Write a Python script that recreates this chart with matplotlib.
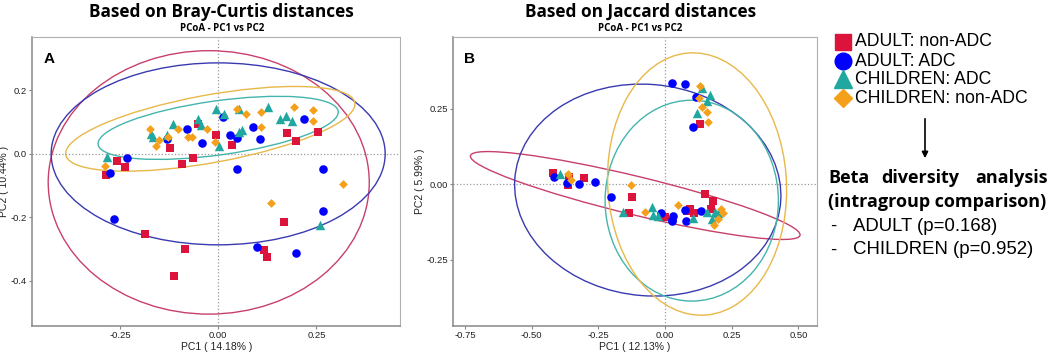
import matplotlib.pyplot as plt
from matplotlib.patches import Ellipse, FancyArrowPatch

plt.rcParams["font.family"] = ["Liberation Sans", "DejaVu Sans"]
plt.rcParams["axes.unicode_minus"] = False

GROUPS = ["ADULT: non-ADC", "ADULT: ADC", "CHILDREN: ADC", "CHILDREN: non-ADC"]
COLORS = ["#DC143C", "#0000FF", "#20A8A0", "#F5A01A"]
ELLIPSE_COLORS = ["#C8406A", "#3A3AB0", "#45B5AC", "#E8B848"]
MARKERS = ["s", "o", "^", "D"]
SIZES = [30, 38, 46, 20]

# ---- Panel A: Bray-Curtis ----
bc_adult_non_x = [-0.285, -0.257, -0.236, -0.123, -0.091, -0.065, -0.052, -0.006, 0.036, 0.176, 0.198, 0.253,
                  -0.185, -0.085, -0.113, 0.167, 0.117, 0.124]
bc_adult_non_y = [-0.066, -0.024, -0.042, 0.020, -0.031, -0.014, 0.095, 0.061, 0.027, 0.066, 0.042, 0.068,
                  -0.252, -0.299, -0.386, -0.215, -0.303, -0.326]
bc_adult_adc_x = [-0.274, -0.231, -0.130, -0.079, -0.041, 0.012, 0.031, 0.048, 0.088, 0.106, 0.218, 0.048, 0.267,
                  -0.264, 0.267, 0.098, 0.198]
bc_adult_adc_y = [-0.061, -0.012, 0.046, 0.077, 0.035, 0.116, 0.059, 0.050, 0.085, 0.046, 0.111, -0.047, -0.048,
                  -0.204, -0.179, -0.293, -0.313]
bc_child_adc_x = [-0.284, -0.171, -0.166, -0.131, -0.115, -0.052, -0.043, -0.006, 0.014, 0.001, 0.052, 0.053,
                  0.061, 0.127, 0.158, 0.172, 0.188, 0.259]
bc_child_adc_y = [-0.010, 0.063, 0.053, 0.060, 0.094, 0.110, 0.090, 0.143, 0.125, 0.026, 0.141, 0.070,
                  0.075, 0.147, 0.111, 0.118, 0.104, -0.224]
bc_child_non_x = [-0.288, -0.174, -0.159, -0.150, -0.128, -0.102, -0.076, -0.067, -0.029, -0.009, 0.048, 0.070,
                  0.109, 0.109, 0.192, 0.242, 0.242, 0.318, 0.135]
bc_child_non_y = [-0.037, 0.079, 0.025, 0.044, 0.052, 0.079, 0.053, 0.053, 0.079, 0.038, 0.143, 0.125,
                  0.131, 0.085, 0.148, 0.138, 0.105, -0.096, -0.154]

# ellipses: center x, center y, width, height, angle
bc_ell_cx = [-0.024, 0.0, 0.0, -0.02]
bc_ell_cy = [-0.09, 0.0, 0.082, 0.079]
bc_ell_w = [0.817, 0.85, 0.62, 0.754]
bc_ell_h = [0.831, 0.574, 0.17, 0.212]
bc_ell_ang = [0, 0, 10, 13]

# ---- Panel B: Jaccard ----
jc_adult_non_x = [-0.419, -0.365, -0.360, -0.304, -0.124, -0.136, 0.0, 0.084, 0.109, 0.094, 0.151, 0.179, 0.172,
                  0.131]
jc_adult_non_y = [0.035, -0.003, 0.024, 0.019, -0.043, -0.097, -0.110, -0.089, -0.095, -0.084, -0.033, -0.057,
                  -0.084, 0.199]
jc_adult_adc_x = [-0.416, -0.369, -0.322, -0.262, -0.202, -0.016, 0.025, 0.031, 0.075, 0.078, 0.135, 0.027,
                  0.025, 0.076, 0.115, 0.106]
jc_adult_adc_y = [0.022, 0.004, -0.001, 0.008, -0.043, -0.097, -0.119, -0.106, -0.086, -0.121, -0.089, -0.122,
                  0.333, 0.331, 0.289, 0.188]
jc_child_adc_x = [-0.396, -0.159, -0.050, -0.044, -0.025, 0.106, 0.159, 0.187, 0.175, 0.200,
                  0.139, 0.169, 0.159, 0.119]
jc_child_adc_y = [0.033, -0.092, -0.077, -0.103, -0.106, -0.114, -0.092, -0.092, -0.117, -0.097,
                  0.317, 0.295, 0.276, 0.234]
jc_child_non_x = [-0.363, -0.354, -0.126, -0.074, 0.050, 0.209, 0.216, 0.200, 0.184,
                  0.131, 0.129, 0.140, 0.157, 0.162]
jc_child_non_y = [0.033, 0.013, -0.002, -0.094, -0.071, -0.082, -0.097, -0.117, -0.134,
                  0.325, 0.285, 0.256, 0.238, 0.204]

jc_ell_cx = [-0.112, -0.065, 0.10, 0.12]
jc_ell_cy = [-0.038, -0.02, -0.055, 0.0]
jc_ell_w = [1.264, 1.0, 0.65, 0.67]
jc_ell_h = [0.128, 0.70, 0.665, 0.87]
jc_ell_ang = [-12, -4, 0, 5]


def draw_panel(ax, xs, ys, ell, xlim, ylim, xticks, yticks, xfmt, yfmt, xlabel, ylabel, letter):
    ax.axvline(0, color="#999999", linestyle=":", linewidth=0.9, zorder=0)
    ax.axhline(0, color="#999999", linestyle=":", linewidth=0.9, zorder=0)
    cx, cy, w, h, ang = ell
    for i in range(4):
        ax.add_patch(Ellipse((cx[i], cy[i]), w[i], h[i], angle=ang[i], fill=False,
                             edgecolor=ELLIPSE_COLORS[i], linewidth=1.0, zorder=1))
    for i in range(4):
        ax.scatter(xs[i], ys[i], marker=MARKERS[i], s=SIZES[i], color=COLORS[i],
                   linewidths=0, zorder=3)
    ax.set_xlim(*xlim)
    ax.set_ylim(*ylim)
    ax.set_xticks(xticks)
    ax.set_xticklabels([xfmt.format(v) for v in xticks])
    ax.set_yticks(yticks)
    ax.set_yticklabels([yfmt.format(v) for v in yticks])
    ax.tick_params(labelsize=6.8, length=2.5, color="#888888", pad=1.2, labelcolor="#222222")
    for s in ax.spines.values():
        s.set_color("#b0b0b0")
        s.set_linewidth(0.8)
    ax.spines["left"].set_color("#888888")
    ax.spines["bottom"].set_color("#888888")
    ax.spines["left"].set_linewidth(1.1)
    ax.spines["bottom"].set_linewidth(1.1)
    ax.set_xlabel(xlabel, fontsize=7.5, labelpad=1, color="#222222")
    ax.set_ylabel(ylabel, fontsize=7.5, labelpad=1, color="#222222")
    ax.text(0.03, 0.925, letter, transform=ax.transAxes, fontsize=11, fontweight="bold",
            va="center", ha="left")


fig = plt.figure(figsize=(10.52, 3.53), dpi=100)

axA = fig.add_axes([0.0307, 0.0765, 0.350, 0.819])
draw_panel(axA,
           [bc_adult_non_x, bc_adult_adc_x, bc_child_adc_x, bc_child_non_x],
           [bc_adult_non_y, bc_adult_adc_y, bc_child_adc_y, bc_child_non_y],
           (bc_ell_cx, bc_ell_cy, bc_ell_w, bc_ell_h, bc_ell_ang),
           (-0.473, 0.464), (-0.543, 0.369),
           [-0.25, 0.0, 0.25], [-0.4, -0.2, 0.0, 0.2], "{:.2f}", "{:.1f}",
           "PC1 ( 14.18% )", "PC2 ( 10.44% )", "A")

axB = fig.add_axes([0.431, 0.0765, 0.3454, 0.818])
draw_panel(axB,
           [jc_adult_non_x, jc_adult_adc_x, jc_child_adc_x, jc_child_non_x],
           [jc_adult_non_y, jc_adult_adc_y, jc_child_adc_y, jc_child_non_y],
           (jc_ell_cx, jc_ell_cy, jc_ell_w, jc_ell_h, jc_ell_ang),
           (-0.794, 0.569), (-0.470, 0.486),
           [-0.75, -0.5, -0.25, 0.0, 0.25, 0.5], [-0.25, 0.0, 0.25], "{:.2f}", "{:.2f}",
           "PC1 ( 12.13% )", "PC2 ( 5.99% )", "B")

# titles
for ax, title in [(axA, "Based on Bray-Curtis distances"), (axB, "Based on Jaccard distances")]:
    pos = ax.get_position()
    xc = (pos.x0 + pos.x1) / 2
    fig.text(xc + 0.005, 1 - 12 / 353, title, fontsize=12.4, fontweight="bold",
             family=["Open Sans", "DejaVu Sans"], ha="center", va="center")
    fig.text(xc + 0.005, 1 - 28.5 / 353, "PCoA - PC1 vs PC2", fontsize=7, fontweight="bold",
             family=["Open Sans", "DejaVu Sans"], ha="center", va="center")

# legend on the right
leg_y = [41.7, 61, 79.3, 98.3]
leg_ms = [11, 12, 13, 9]
for i, g in enumerate(GROUPS):
    y = 1 - leg_y[i] / 353
    fig.lines.append(plt.Line2D([842.7 / 1052], [y], marker=MARKERS[i], color=COLORS[i],
                                markersize=leg_ms[i], linestyle="none", transform=fig.transFigure))
    fig.text(855 / 1052, y, g, fontsize=12.7, ha="left", va="center")

fig.patches.append(FancyArrowPatch((925 / 1052, 1 - 116 / 353), (925 / 1052, 1 - 161 / 353),
                                   transform=fig.transFigure, arrowstyle="-|>", mutation_scale=9,
                                   color="black", linewidth=1.2))

bold_kw = dict(fontsize=13, fontweight="bold", family=["Open Sans", "DejaVu Sans"], va="center")
y1 = 1 - 178.3 / 353
fig.text(828 / 1052, y1, "Beta", ha="left", **bold_kw)
fig.text(881.7 / 1052, y1, "diversity", ha="left", **bold_kw)
fig.text(1048 / 1052, y1, "analysis", ha="right", **bold_kw)
fig.text(828 / 1052, 1 - 201.7 / 353, "(intragroup comparison)", ha="left", **bold_kw)

for yy, label in [(226.7, "ADULT (p=0.168)"), (250, "CHILDREN (p=0.952)")]:
    fig.text(830 / 1052, 1 - yy / 353, "-", fontsize=13.4, ha="left", va="center")
    fig.text(853 / 1052, 1 - yy / 353, label, fontsize=13.4, ha="left", va="center")

fig.savefig("out.png", dpi=100)
